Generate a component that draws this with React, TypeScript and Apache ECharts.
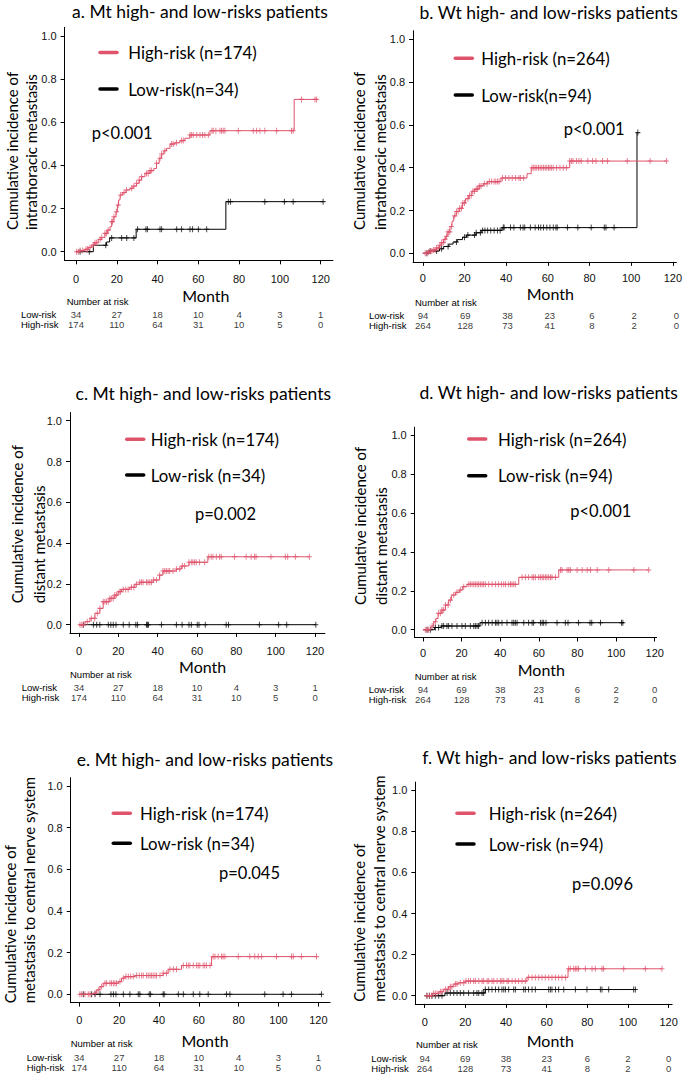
import React, { useEffect, useRef } from 'react';
import * as echarts from 'echarts';

const RED = '#DF536B';
const BLACK = '#000000';
const SANS = 'Lato';
const RFONT = '"Liberation Sans", Arial, sans-serif';

const monthTicks = [0, 20, 40, 60, 80, 100, 120];
const probTicks = [0, 0.2, 0.4, 0.6, 0.8, 1.0];
const riskRows = ['High-risk', 'Low-risk'];

// ---- a. Mt, intrathoracic metastasis
const aHigh = [[0, 0], [2, 0.005], [4.4, 0.011], [6, 0.02], [7.7, 0.031], [9.3, 0.042], [10.9, 0.057], [12.6, 0.066], [14.2, 0.085], [15.4, 0.1], [16.7, 0.116], [17.5, 0.139], [18.6, 0.162], [19.6, 0.185], [20.3, 0.216], [20.9, 0.24], [21.6, 0.263], [22.9, 0.274], [24.5, 0.286], [26.5, 0.294], [28.1, 0.304], [29.7, 0.317], [31, 0.332], [32.2, 0.348], [33.8, 0.363], [36.3, 0.376], [38.2, 0.386], [39.5, 0.41], [40.8, 0.433], [42, 0.453], [43.1, 0.468], [44.4, 0.479], [46.1, 0.499], [48.5, 0.505], [51, 0.515], [53.4, 0.526], [55.9, 0.541], [65.7, 0.561], [107, 0.706], [118, 0.706]];
const aHighCensor = [0.3, 1.1, 2, 3.3, 4.9, 5.6, 6.9, 8.5, 9.3, 10.1, 11.8, 12.6, 14.2, 15, 15.8, 17.5, 17.9, 18.6, 19.9, 20.7, 21.9, 23.5, 24.8, 27.3, 28.4, 29.7, 31, 32.2, 34.6, 35.4, 36.3, 37.1, 39.5, 41.2, 42, 43.6, 46.9, 47.7, 49.3, 51.8, 52.6, 55.9, 56.7, 57.5, 59.2, 60.8, 62.1, 63.2, 64.9, 66.7, 67.3, 68.6, 70.6, 71.4, 72.2, 73, 79.6, 86.9, 88.6, 90.2, 92.6, 98.4, 105.7, 106.5, 110.6, 117.2, 118];
const aLow = [[0, 0], [8.5, 0.03], [15, 0.045], [16.5, 0.064], [29.5, 0.104], [73.5, 0.232], [121.2, 0.232]];
const aLowCensor = [2, 6.5, 14.6, 17.5, 22.4, 24.9, 28.4, 30.2, 34.3, 35, 41.2, 42, 49.4, 51.8, 55.9, 57.2, 60, 64.1, 74.7, 75.8, 92.6, 102.2, 106.5, 121.2];

// ---- b. Wt, intrathoracic metastasis
const bHigh = [[0, 0], [2, 0.005], [3.5, 0.01], [5, 0.016], [6.5, 0.025], [8, 0.038], [9, 0.05], [10, 0.065], [11, 0.08], [12, 0.1], [13, 0.125], [14, 0.15], [14.8, 0.175], [16, 0.195], [17.5, 0.21], [19, 0.235], [20.5, 0.255], [22, 0.27], [23.5, 0.29], [25, 0.3], [27, 0.315], [29, 0.325], [31, 0.335], [37.5, 0.352], [50, 0.372], [52, 0.4], [70.5, 0.431], [117, 0.431]];
const bHighCensor = [1.1, 1.9, 2.7, 3.5, 4.3, 5, 5.8, 6.6, 7.4, 8.2, 9, 9.8, 10.6, 11.4, 12.1, 12.9, 13.7, 15.3, 16.1, 16.9, 17.7, 18.5, 19.2, 20, 21.6, 22.4, 23.2, 24, 24.8, 25.6, 26.3, 27.1, 27.9, 29.5, 30.8, 31.9, 33, 34.2, 35, 35.8, 36.6, 38.2, 39.7, 41.3, 42.9, 44.5, 46.1, 46.8, 48.4, 52.4, 53.2, 53.9, 54.7, 55.5, 56.3, 57.1, 57.9, 58.7, 59.5, 60.3, 61, 61.8, 62.6, 64.2, 65.8, 67.4, 68.9, 70.5, 71.3, 72.1, 73.7, 74.9, 76, 79.2, 81.5, 83.1, 86.3, 88.6, 98.1, 109.1, 117];
const bLow = [[0, 0], [3, 0.011], [8, 0.021], [10, 0.032], [12.5, 0.043], [14.5, 0.053], [16.5, 0.064], [19, 0.075], [21, 0.085], [25.5, 0.096], [28, 0.107], [38, 0.12], [102.8, 0.564], [103.2, 0.564]];
const bLowCensor = [1.9, 3.5, 6.6, 9, 12.1, 16.1, 20, 21.6, 24.8, 25.6, 27.6, 28.7, 29.8, 31.1, 32.6, 34.2, 35.8, 37.1, 38.6, 39, 42.1, 43.7, 46.8, 48.1, 48.9, 51.6, 53.9, 55.5, 56.6, 57.9, 59.5, 61, 62.6, 63.9, 64.5, 69.4, 74.4, 80.8, 87.1, 87.9, 91.8, 103.2];

// ---- c. Mt, distant metastasis
const cHigh = [[0, 0], [3, 0.015], [5.6, 0.031], [8.1, 0.056], [10.6, 0.08], [12.3, 0.113], [15.7, 0.129], [18.2, 0.145], [19.9, 0.162], [21.6, 0.173], [25.8, 0.183], [28.4, 0.198], [30.9, 0.208], [37.7, 0.219], [41, 0.243], [42.7, 0.263], [49.5, 0.273], [52, 0.288], [55.9, 0.306], [65.5, 0.333], [117.1, 0.333]];
const cHighCensor = [0.5, 1.4, 2.2, 4.2, 6.3, 8, 9.3, 10.6, 12.3, 13.2, 14, 14.9, 15.7, 16.6, 17.4, 18.2, 19.1, 20.4, 21.1, 22.5, 23.8, 25, 26.7, 27.9, 29.2, 30.9, 31.8, 32.6, 34.3, 35.1, 36, 36.8, 38, 39.4, 41, 42.7, 43.6, 44.4, 45.3, 46.1, 47.8, 49.5, 51.2, 52.5, 53.7, 55.9, 57.1, 57.9, 58.8, 59.6, 61.3, 63.9, 66, 67.2, 68.1, 69.8, 71.5, 72.3, 79.1, 85, 87.5, 89.2, 90, 97.6, 104.9, 106.1, 110, 117.1];
const cLow = [[0, 0], [120.4, 0]];
const cLowCensor = [2.2, 7.3, 9, 10.6, 14.9, 16.2, 17.4, 18.8, 22.5, 25.5, 28.9, 29.7, 34.3, 34.8, 35.3, 41.9, 49.5, 52.4, 55.9, 57.1, 60.1, 61, 64.2, 74.8, 76, 91.7, 101.5, 105.6, 120.4];

// ---- d. Wt, distant metastasis
const dHigh = [[0, 0], [3.8, 0.01], [4.7, 0.019], [5.5, 0.041], [6.7, 0.058], [7.8, 0.084], [9.8, 0.101], [11.6, 0.127], [13.3, 0.152], [14.7, 0.178], [16.8, 0.192], [18.8, 0.204], [20.6, 0.221], [22.8, 0.233], [49.6, 0.269], [70.3, 0.307], [116.9, 0.307]];
const dHighCensor = [1.2, 2.1, 2.9, 4.7, 6.4, 8.1, 9, 9.8, 10.7, 11.6, 13, 14.2, 15.9, 17.6, 19.3, 21.1, 23.7, 24.5, 25.4, 26.3, 27.1, 28, 28.8, 29.7, 30.6, 31.4, 32.3, 34, 35.8, 37.5, 39.2, 40.6, 41.8, 42.7, 44.4, 45.3, 46.1, 47, 47.8, 51.3, 53, 54.7, 56.5, 57.3, 58.2, 59.9, 60.8, 61.7, 62.5, 63.4, 64.2, 65.1, 66, 66.8, 68.6, 71.2, 72, 74.6, 75.5, 76.3, 79.8, 82.4, 85, 86.7, 90.2, 96.2, 109.2, 116.9];
const dLow = [[0, 0], [6, 0.011], [9.5, 0.019], [29.5, 0.036], [104, 0.036]];
const dLowCensor = [2.1, 3.8, 6.4, 8.1, 9.8, 10.7, 12.4, 13.3, 15, 17.6, 20.2, 21.9, 24.5, 26.3, 27.1, 28, 28.8, 30.6, 32.3, 34, 35.8, 37.5, 38.3, 39.2, 40.9, 43.5, 46.1, 47, 47.8, 48.7, 52.2, 54.7, 56.5, 57.3, 60.8, 61.7, 62.5, 63.7, 69.4, 73.7, 75.1, 80.5, 86.5, 87.4, 91.9, 102.8, 103.5];

// ---- e. Mt, central nerve system
const eHigh = [[0, 0], [7, 0.005], [8.7, 0.021], [10.4, 0.037], [12, 0.053], [19.6, 0.061], [21.2, 0.077], [22.9, 0.085], [27.9, 0.09], [42.1, 0.101], [44.6, 0.12], [51.3, 0.138], [66.4, 0.181], [119.1, 0.181]];
const eHighCensor = [0.3, 1.2, 2.8, 4.5, 5.4, 7.9, 9.5, 11.2, 12.9, 13.7, 15.4, 16.2, 17.1, 17.9, 18.7, 20.4, 22.1, 23.4, 24.6, 25.8, 27.1, 28.8, 30.1, 31.3, 32.1, 33.8, 34.6, 35.5, 36.3, 37.1, 38, 38.8, 40.5, 42.1, 43.8, 45.5, 47.2, 48.8, 52.2, 53.8, 54.7, 55.5, 57.2, 58.9, 59.7, 60.5, 62.2, 63, 63.9, 65.6, 67.2, 68.1, 69.7, 71.4, 72.2, 73.1, 79.8, 85.6, 88.1, 89.8, 91.5, 99, 106.5, 107.4, 111.5, 119.1];
const eLow = [[0, 0], [121.6, 0]];
const eLowCensor = [2, 6.2, 7.9, 10.4, 15.9, 17.1, 18.4, 22.1, 25.4, 29.6, 30.4, 35.1, 35.8, 42.1, 42.6, 49.7, 52.2, 57.2, 60.5, 64.7, 73.9, 75.6, 93.1, 102.3, 106.5, 121.6];

// ---- f. Wt, central nerve system
const fHigh = [[0, 0], [3.6, 0.011], [6.9, 0.019], [9.3, 0.031], [11.8, 0.044], [14.3, 0.057], [16.7, 0.063], [20, 0.071], [50.3, 0.089], [70.5, 0.131], [116.7, 0.131]];
const fHighCensor = [1.1, 2.3, 3.3, 4.4, 5.2, 6.1, 7.7, 8.5, 10.2, 11.5, 12.6, 13.4, 15.1, 15.9, 17.5, 19.2, 20.3, 21.6, 22.5, 24.1, 24.9, 26.6, 28.2, 29, 30.7, 31.5, 33.1, 34, 35.6, 37.2, 38, 38.9, 40.5, 41.3, 43, 44.6, 46.2, 47.9, 49.5, 51.1, 52.8, 54.4, 56.1, 57.7, 59.3, 61, 62.6, 64.3, 65.9, 67.5, 69.2, 70.8, 71.6, 73.3, 74.1, 74.9, 75.7, 79, 82.3, 83.9, 87.2, 88, 97.9, 108.5, 116.7];
const fLow = [[0, 0], [10, 0.013], [29.8, 0.03], [103.6, 0.03]];
const fLowCensor = [1.1, 2.3, 3.6, 5.2, 6.9, 8.5, 11, 12.6, 14.3, 15.9, 17.5, 19.2, 21.6, 24.1, 25.7, 26.6, 28.2, 29, 29.8, 31.5, 33.1, 34.8, 36.4, 38, 38.9, 39.7, 41.3, 43.8, 44.6, 48.7, 49.5, 51.1, 52.8, 54.4, 61, 61.8, 62.6, 64.3, 65.9, 68.4, 74.1, 79.8, 86.4, 87.2, 90.5, 102.8, 103.6];

// ---- numbers at risk
const mtLowAtRisk = [34, 27, 18, 10, 4, 3, 1];
const mtHighAtRisk = [174, 110, 64, 31, 10, 5, 0];
const wtLowAtRisk = [94, 69, 38, 23, 6, 2, 0];
const wtHighAtRisk = [264, 128, 73, 41, 8, 2, 0];

const panels = [
  { title: 'a. Mt high- and low-risks patients', high: aHigh, highC: aHighCensor, low: aLow, lowC: aLowCensor, lowRisk: mtLowAtRisk, highRisk: mtHighAtRisk, legHigh: 'High-risk (n=174)', legLow: 'Low-risk(n=34)', p: 'p<0.001', ytitle: ['Cumulative incidence of', 'intrathoracic metastasis'] },
  { title: 'b. Wt high- and low-risks patients', high: bHigh, highC: bHighCensor, low: bLow, lowC: bLowCensor, lowRisk: wtLowAtRisk, highRisk: wtHighAtRisk, legHigh: 'High-risk (n=264)', legLow: 'Low-risk(n=94)', p: 'p<0.001', ytitle: ['Cumulative incidence of', 'intrathoracic metastasis'] },
  { title: 'c. Mt high- and low-risks patients', high: cHigh, highC: cHighCensor, low: cLow, lowC: cLowCensor, lowRisk: mtLowAtRisk, highRisk: mtHighAtRisk, legHigh: 'High-risk (n=174)', legLow: 'Low-risk (n=34)', p: 'p=0.002', ytitle: ['Cumulative incidence of', 'distant metastasis'] },
  { title: 'd. Wt high- and low-risks patients', high: dHigh, highC: dHighCensor, low: dLow, lowC: dLowCensor, lowRisk: wtLowAtRisk, highRisk: wtHighAtRisk, legHigh: 'High-risk (n=264)', legLow: 'Low-risk (n=94)', p: 'p<0.001', ytitle: ['Cumulative incidence of', 'distant metastasis'] },
  { title: 'e. Mt high- and low-risks patients', high: eHigh, highC: eHighCensor, low: eLow, lowC: eLowCensor, lowRisk: mtLowAtRisk, highRisk: mtHighAtRisk, legHigh: 'High-risk (n=174)', legLow: 'Low-risk (n=34)', p: 'p=0.045', ytitle: ['Cumulative incidence of', 'metastasis to central nerve system'] },
  { title: 'f. Wt high- and low-risks patients', high: fHigh, highC: fHighCensor, low: fLow, lowC: fLowCensor, lowRisk: wtLowAtRisk, highRisk: wtHighAtRisk, legHigh: 'High-risk (n=264)', legLow: 'Low-risk (n=94)', p: 'p=0.096', ytitle: ['Cumulative incidence of', 'metastasis to central nerve system'] },
];

// Layout (pixels) for each panel
const layouts = [
  { x0: 76, xs: 2.039, xmin: -5.6, xmax: 126, y0: 251.7, y1: 36, xlm: 13, title: [200, 11], leg: [100, 128.3, 52.5, 89], p: [91.7, 133.3], yt: [12.3, 30.7, 230], month: [205.8, 295], nar: [66.7, 301.5], rows: [314.5, 324.5, 21] },
  { x0: 423, xs: 2.111, xmin: -4.7, xmax: 121.7, y0: 253.3, y1: 39.3, xlm: 11, title: [548.7, 12.3], leg: [455.3, 481.3, 58.3, 95], p: [563.7, 129.3], yt: [358.7, 380.3, 230], month: [550.3, 293.3], nar: [415, 302], rows: [315, 325, 369] },
  { x0: 79, xs: 1.967, xmin: -4.6, xmax: 125, y0: 624.7, y1: 420.7, xlm: 13, title: [203.3, 393.3], leg: [126.7, 150.7, 439.3, 475], p: [195, 514.3], yt: [16.7, 39.3, 603.3], month: [202.7, 666.7], nar: [70, 674], rows: [687.5, 697.5, 21.7] },
  { x0: 423, xs: 1.931, xmin: -4.3, xmax: 121, y0: 629.7, y1: 435, xlm: 10.5, title: [548.7, 392.7], leg: [468.7, 498, 439, 475.7], p: [570.3, 511], yt: [360.3, 381.3, 605], month: [541.3, 669], nar: [414.7, 676.7], rows: [689.5, 699.5, 368.7] },
  { x0: 79.3, xs: 1.992, xmin: -4.3, xmax: 125.9, y0: 994.3, y1: 786, xlm: 12, title: [205, 759], leg: [113.3, 140, 813.3, 843.3], p: [219, 872.7], yt: [10, 29.3, 1003.3], month: [205, 1040.7], nar: [70.7, 1043.3], rows: [1057.8, 1067.8, 26.7] },
  { x0: 424.7, xs: 2.033, xmin: -4.6, xmax: 121.7, y0: 995.7, y1: 790.3, xlm: 13, title: [549.5, 757.3], leg: [457, 488.7, 813.3, 844], p: [572, 884.3], yt: [358.7, 379.3, 1001.7], month: [550.3, 1040.7], nar: [416, 1044.3], rows: [1058.2, 1068.2, 371.3] },
];

function stepValue(curve: number[][], t: number) {
  let v = curve[0][1];
  for (const [ct, cv] of curve) {
    if (ct <= t) v = cv;
    else break;
  }
  return v;
}

const PLUS = 'path://M0,5L10,5M5,0L5,10';

function txt(text: string, x: number, y: number, size: number, align: string, family = SANS, rot = 0) {
  return {
    type: 'text',
    x,
    y,
    rotation: rot,
    silent: true,
    style: {
      text,
      fill: '#000',
      fontSize: size,
      fontFamily: family,
      align,
      verticalAlign: 'middle',
      textAlign: align,
      textVerticalAlign: 'middle',
    },
  };
}

function buildOption() {
  const grid: any[] = [];
  const xAxis: any[] = [];
  const yAxis: any[] = [];
  const series: any[] = [];
  const elements: any[] = [];

  panels.forEach((p, i) => {
    const L = layouts[i];
    const left = L.x0 + L.xmin * L.xs;
    const width = (L.xmax - L.xmin) * L.xs;
    const span = L.y0 - L.y1;
    grid.push({ left, top: L.y1 - 0.04 * span, width, height: 1.08 * span });
    xAxis.push({
      type: 'value', gridIndex: i, min: L.xmin, max: L.xmax,
      splitLine: { show: false },
      axisLine: { show: true, onZero: false, lineStyle: { color: '#000', width: 1 } },
      axisTick: { show: true, inside: false, length: 4, customValues: monthTicks, lineStyle: { color: '#000' } },
      axisLabel: { show: true, customValues: monthTicks, fontSize: 11, fontFamily: RFONT, color: '#111', margin: L.xlm },
    });
    yAxis.push({
      type: 'value', gridIndex: i, min: -0.04, max: 1.04,
      splitLine: { show: false },
      axisLine: { show: true, onZero: false, lineStyle: { color: '#000', width: 1 } },
      axisTick: { show: true, inside: false, length: 4, customValues: probTicks, lineStyle: { color: '#000' } },
      axisLabel: { show: true, customValues: probTicks, fontSize: 11, fontFamily: RFONT, color: '#111', margin: 8, formatter: (v: number) => v.toFixed(1) },
    });
  });

  panels.forEach((p, i) => {
    const L = layouts[i];
    const left = L.x0 + L.xmin * L.xs;
    const width = (L.xmax - L.xmin) * L.xs;
    const [rl, rh, lx] = L.rows;
    const gap = rh - rl;
    grid.push({ left, top: rl - gap / 2, width, height: 2 * gap });
    xAxis.push({ type: 'value', gridIndex: 6 + i, min: L.xmin, max: L.xmax, show: false });
    yAxis.push({
      type: 'category', gridIndex: 6 + i, data: riskRows,
      axisLine: { show: false }, axisTick: { show: false }, splitLine: { show: false },
      axisLabel: { show: true, interval: 0, hideOverlap: false, align: 'left', margin: left - lx, fontSize: 9.5, lineHeight: 9, fontFamily: RFONT, color: '#000' },
    });
  });

  panels.forEach((p, i) => {
    series.push({
      type: 'line', xAxisIndex: i, yAxisIndex: i, step: 'end', showSymbol: false, silent: true,
      data: p.low, lineStyle: { color: BLACK, width: 1 }, z: 2,
    });
    series.push({
      type: 'line', xAxisIndex: i, yAxisIndex: i, step: 'end', showSymbol: false, silent: true,
      data: p.high, lineStyle: { color: RED, width: 1 }, z: 3,
    });
    series.push({
      type: 'scatter', xAxisIndex: i, yAxisIndex: i, silent: true, symbol: PLUS, symbolSize: [5, 6],
      data: p.lowC.map((t) => [t, stepValue(p.low, t)]),
      itemStyle: { color: BLACK, borderColor: BLACK, borderWidth: 1 }, z: 2,
    });
    series.push({
      type: 'scatter', xAxisIndex: i, yAxisIndex: i, silent: true, symbol: PLUS, symbolSize: [5, 6],
      data: p.highC.map((t) => [t, stepValue(p.high, t)]),
      itemStyle: { color: RED, borderColor: RED, borderWidth: 1 }, z: 3,
    });
    const tableData: any[] = [];
    monthTicks.forEach((m, k) => {
      tableData.push([m, 'Low-risk', p.lowRisk[k]]);
      tableData.push([m, 'High-risk', p.highRisk[k]]);
    });
    series.push({
      type: 'scatter', xAxisIndex: 6 + i, yAxisIndex: 6 + i, silent: true, symbolSize: 1,
      itemStyle: { color: 'rgba(0,0,0,0)' },
      data: tableData,
      labelLayout: { hideOverlap: false },
      label: {
        show: true, position: 'inside', fontSize: 9.5, lineHeight: 9, fontFamily: RFONT, color: '#000',
        formatter: (q: any) => String(q.value[2]),
      },
    });

    const L = layouts[i];
    elements.push(txt(p.title, L.title[0], L.title[1], 17.5, 'center'));
    const [lineX, textX, yH, yL] = L.leg;
    elements.push({ type: 'line', silent: true, shape: { x1: lineX, y1: yH, x2: lineX + 17, y2: yH }, style: { stroke: RED, lineWidth: 3.5, lineCap: 'round' } });
    elements.push({ type: 'line', silent: true, shape: { x1: lineX, y1: yL, x2: lineX + 17, y2: yL }, style: { stroke: BLACK, lineWidth: 3.5, lineCap: 'round' } });
    elements.push(txt(p.legHigh, textX, yH, 16.8, 'left'));
    elements.push(txt(p.legLow, textX, yL, 16.8, 'left'));
    elements.push(txt(p.p, L.p[0], L.p[1], 16.5, 'left'));
    elements.push(txt(p.ytitle[0], L.yt[0], L.yt[2], 15, 'left', SANS, Math.PI / 2));
    elements.push(txt(p.ytitle[1], L.yt[1], L.yt[2], 15, 'left', SANS, Math.PI / 2));
    elements.push(txt('Month', L.month[0], L.month[1], 16, 'center'));
    elements.push(txt('Number at risk', L.nar[0], L.nar[1], 9.5, 'left', RFONT));
  });

  return {
    animation: false,
    backgroundColor: '#ffffff',
    grid,
    xAxis,
    yAxis,
    series,
    graphic: { elements },
  };
}

export default function App() {
  const ref = useRef<HTMLDivElement>(null);
  useEffect(() => {
    document.body.style.margin = '0';
    if (!ref.current) return;
    const chart = echarts.init(ref.current, undefined, { renderer: 'svg' });
    chart.setOption(buildOption() as any);
    return () => chart.dispose();
  }, []);
  return <div ref={ref} style={{ width: 685, height: 1074 }} />;
}
